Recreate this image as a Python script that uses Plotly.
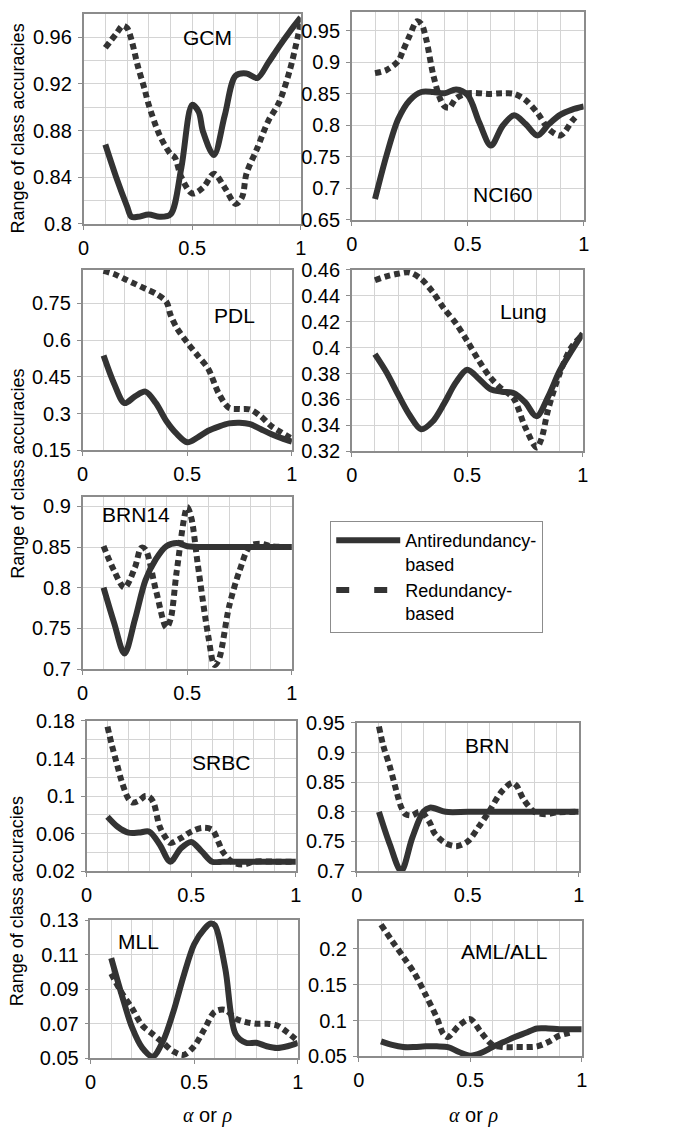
import plotly.graph_objects as go

W, H = 685, 1137

# ---------------- data ----------------
gcm_x_anti = [0.1, 0.15, 0.2, 0.22, 0.25, 0.3, 0.35, 0.4, 0.45, 0.5, 0.53, 0.55, 0.6, 0.65, 0.7, 0.75, 0.8, 0.85, 0.9, 0.95, 1.0]
gcm_y_anti = [0.868, 0.84, 0.815, 0.806, 0.806, 0.808, 0.806, 0.808, 0.848, 0.902, 0.896, 0.879, 0.859, 0.893, 0.927, 0.929, 0.925, 0.938, 0.952, 0.965, 0.977]
gcm_x_red = [0.1, 0.15, 0.18, 0.2, 0.22, 0.25, 0.28, 0.3, 0.35, 0.4, 0.42, 0.45, 0.5, 0.55, 0.6, 0.65, 0.7, 0.73, 0.75, 0.8, 0.85, 0.9, 0.95, 1.0]
gcm_y_red = [0.951, 0.963, 0.970, 0.968, 0.958, 0.935, 0.916, 0.902, 0.876, 0.86, 0.857, 0.84, 0.826, 0.831, 0.843, 0.831, 0.817, 0.823, 0.843, 0.865, 0.888, 0.904, 0.932, 0.972]

nci_x_anti = [0.1, 0.15, 0.2, 0.25, 0.3, 0.35, 0.4, 0.45, 0.5, 0.55, 0.6, 0.65, 0.7, 0.75, 0.8, 0.85, 0.9, 0.95, 1.0]
nci_y_anti = [0.683, 0.753, 0.81, 0.84, 0.853, 0.853, 0.851, 0.857, 0.848, 0.804, 0.768, 0.799, 0.816, 0.802, 0.784, 0.802, 0.817, 0.825, 0.83]
nci_x_red = [0.1, 0.15, 0.2, 0.22, 0.25, 0.28, 0.3, 0.32, 0.35, 0.38, 0.4, 0.42, 0.45, 0.5, 0.6, 0.65, 0.7, 0.75, 0.8, 0.85, 0.9, 0.95, 0.97]
nci_y_red = [0.883, 0.888, 0.902, 0.918, 0.943, 0.965, 0.961, 0.938, 0.882, 0.843, 0.83, 0.828, 0.843, 0.851, 0.85, 0.851, 0.85, 0.84, 0.82, 0.794, 0.784, 0.807, 0.815]

pdl_x_anti = [0.1, 0.15, 0.2, 0.25, 0.3, 0.35, 0.4, 0.45, 0.5, 0.55, 0.6, 0.65, 0.7, 0.75, 0.8, 0.85, 0.9, 0.95, 1.0]
pdl_y_anti = [0.537, 0.423, 0.343, 0.37, 0.39, 0.343, 0.27, 0.217, 0.183, 0.203, 0.23, 0.247, 0.26, 0.263, 0.257, 0.237, 0.217, 0.2, 0.186]
pdl_x_red = [0.1, 0.15, 0.2, 0.25, 0.3, 0.35, 0.4, 0.42, 0.45, 0.5, 0.55, 0.6, 0.65, 0.7, 0.75, 0.8, 0.85, 0.9, 0.95, 1.0]
pdl_y_red = [0.883, 0.87, 0.85, 0.83, 0.81, 0.79, 0.757, 0.703, 0.65, 0.59, 0.537, 0.483, 0.383, 0.323, 0.319, 0.317, 0.29, 0.25, 0.223, 0.197]

lung_x_anti = [0.1, 0.15, 0.2, 0.25, 0.3, 0.35, 0.4, 0.45, 0.5, 0.55, 0.6, 0.65, 0.7, 0.75, 0.8, 0.85, 0.9, 0.95, 1.0]
lung_y_anti = [0.395, 0.381, 0.364, 0.348, 0.337, 0.343, 0.357, 0.373, 0.383, 0.376, 0.368, 0.366, 0.365, 0.358, 0.347, 0.362, 0.382, 0.397, 0.411]
lung_x_red = [0.1, 0.15, 0.2, 0.25, 0.3, 0.35, 0.4, 0.45, 0.5, 0.55, 0.6, 0.65, 0.7, 0.75, 0.8, 0.82, 0.85, 0.9, 0.95, 1.0]
lung_y_red = [0.452, 0.455, 0.457, 0.458, 0.453, 0.443, 0.43, 0.419, 0.405, 0.39, 0.377, 0.368, 0.361, 0.339, 0.323, 0.329, 0.352, 0.38, 0.4, 0.41]

brn14_x_anti = [0.1, 0.15, 0.2, 0.25, 0.3, 0.35, 0.4, 0.45, 0.5, 0.6, 0.7, 0.8, 0.9, 1.0]
brn14_y_anti = [0.80, 0.757, 0.719, 0.761, 0.809, 0.835, 0.851, 0.855, 0.851, 0.85, 0.85, 0.85, 0.85, 0.85]
brn14_x_red = [0.1, 0.15, 0.2, 0.25, 0.28, 0.3, 0.35, 0.4, 0.42, 0.45, 0.5, 0.52, 0.55, 0.6, 0.63, 0.65, 0.7, 0.75, 0.8, 0.85, 0.9, 1.0]
brn14_y_red = [0.851, 0.821, 0.80, 0.825, 0.849, 0.847, 0.797, 0.751, 0.761, 0.821, 0.899, 0.885, 0.829, 0.741, 0.705, 0.711, 0.777, 0.821, 0.851, 0.854, 0.851, 0.85]

srbc_x_anti = [0.1, 0.15, 0.2, 0.25, 0.3, 0.35, 0.4, 0.45, 0.5, 0.55, 0.6, 0.65, 0.7, 0.8, 0.9, 1.0]
srbc_y_anti = [0.078, 0.067, 0.061, 0.061, 0.062, 0.048, 0.030, 0.044, 0.051, 0.041, 0.030, 0.030, 0.030, 0.030, 0.030, 0.030]
srbc_x_red = [0.1, 0.12, 0.15, 0.17, 0.2, 0.22, 0.25, 0.28, 0.3, 0.32, 0.35, 0.38, 0.4, 0.45, 0.5, 0.55, 0.6, 0.63, 0.65, 0.7, 0.75, 0.8, 0.9, 1.0]
srbc_y_red = [0.174, 0.155, 0.13, 0.114, 0.097, 0.093, 0.095, 0.10, 0.099, 0.093, 0.067, 0.055, 0.05, 0.055, 0.062, 0.066, 0.064, 0.051, 0.041, 0.029, 0.027, 0.03, 0.03, 0.03]

brn_x_anti = [0.1, 0.15, 0.2, 0.25, 0.3, 0.33, 0.35, 0.4, 0.5, 0.6, 0.7, 0.8, 0.9, 1.0]
brn_y_anti = [0.80, 0.744, 0.70, 0.756, 0.80, 0.807, 0.806, 0.80, 0.80, 0.80, 0.80, 0.80, 0.80, 0.80]
brn_x_red = [0.1, 0.12, 0.15, 0.18, 0.2, 0.22, 0.25, 0.28, 0.3, 0.33, 0.35, 0.4, 0.45, 0.5, 0.55, 0.6, 0.65, 0.7, 0.72, 0.75, 0.8, 0.85, 0.9, 1.0]
brn_y_red = [0.944, 0.911, 0.875, 0.833, 0.808, 0.796, 0.794, 0.80, 0.797, 0.781, 0.764, 0.747, 0.742, 0.75, 0.775, 0.803, 0.833, 0.849, 0.844, 0.822, 0.80, 0.796, 0.799, 0.80]

mll_x_anti = [0.1, 0.15, 0.2, 0.25, 0.3, 0.35, 0.4, 0.45, 0.5, 0.55, 0.58, 0.6, 0.65, 0.7, 0.75, 0.8, 0.85, 0.9, 0.95, 1.0]
mll_y_anti = [0.108, 0.087, 0.068, 0.056, 0.051, 0.060, 0.077, 0.098, 0.116, 0.125, 0.128, 0.127, 0.102, 0.064, 0.059, 0.059, 0.057, 0.056, 0.057, 0.059]
mll_x_red = [0.1, 0.15, 0.2, 0.25, 0.3, 0.35, 0.4, 0.45, 0.5, 0.55, 0.6, 0.65, 0.7, 0.75, 0.8, 0.85, 0.9, 0.95, 1.0]
mll_y_red = [0.099, 0.088, 0.079, 0.069, 0.064, 0.059, 0.054, 0.052, 0.057, 0.067, 0.077, 0.078, 0.073, 0.071, 0.07, 0.07, 0.069, 0.065, 0.06]

aml_x_anti = [0.1, 0.15, 0.2, 0.25, 0.3, 0.35, 0.4, 0.45, 0.5, 0.55, 0.6, 0.65, 0.7, 0.75, 0.8, 0.85, 0.9, 1.0]
aml_y_anti = [0.071, 0.066, 0.063, 0.063, 0.064, 0.064, 0.063, 0.056, 0.051, 0.055, 0.063, 0.07, 0.077, 0.083, 0.089, 0.089, 0.088, 0.088]
aml_x_red = [0.1, 0.15, 0.2, 0.25, 0.3, 0.35, 0.38, 0.4, 0.45, 0.5, 0.55, 0.6, 0.65, 0.7, 0.75, 0.8, 0.85, 0.9, 0.95]
aml_y_red = [0.234, 0.211, 0.189, 0.166, 0.136, 0.104, 0.081, 0.077, 0.093, 0.102, 0.083, 0.066, 0.063, 0.063, 0.063, 0.064, 0.07, 0.079, 0.083]

panel_names = ["GCM", "NCI60", "PDL", "Lung", "BRN14", "SRBC", "BRN", "MLL", "AML/ALL"]
series_names = ["Antiredundancy-<br>based", "Redundancy-<br>based"]
y_title = "Range of class accuracies"
x_title = ("<span style=\"font-family:'Liberation Serif'\"><i>α</i></span> or "
           "<span style=\"font-family:'Liberation Serif'\"><i>ρ</i></span>")

series = [
    (gcm_x_anti, gcm_y_anti, gcm_x_red, gcm_y_red),
    (nci_x_anti, nci_y_anti, nci_x_red, nci_y_red),
    (pdl_x_anti, pdl_y_anti, pdl_x_red, pdl_y_red),
    (lung_x_anti, lung_y_anti, lung_x_red, lung_y_red),
    (brn14_x_anti, brn14_y_anti, brn14_x_red, brn14_y_red),
    (srbc_x_anti, srbc_y_anti, srbc_x_red, srbc_y_red),
    (brn_x_anti, brn_y_anti, brn_x_red, brn_y_red),
    (mll_x_anti, mll_y_anti, mll_x_red, mll_y_red),
    (aml_x_anti, aml_y_anti, aml_x_red, aml_y_red),
]

# ---------------- layout (pixels) ----------------
boxes = [
    (79, 300, 3, 217), (352, 588, 1, 213),
    (78, 291, 264, 448), (352, 587, 264, 449),
    (78, 291, 496, 671),
    (82, 295, 724, 877), (357, 583, 726, 877),
    (86, 297, 927, 1068), (359, 586, 928, 1066),
]
yranges = [(0.8, 0.98), (0.65, 0.98), (0.15, 0.887), (0.32, 0.46), (0.7, 0.911),
           (0.02, 0.18), (0.7, 0.95), (0.05, 0.13), (0.05, 0.239)]
ysteps = [0.04, 0.05, 0.15, 0.02, 0.05, 0.04, 0.05, 0.02, 0.05]
yminor = [0.02, None, None, None, None, 0.02, None, None, None]
title_pos = [(205, 27), (506, 187), (233, 311), (527, 306), (132, 513),
             (219, 766), (490, 749), (135, 949), (507, 959)]

LINE = "#333333"
GRID = "#d4d4d4"
FRAME = "#8c8c8c"
FONT = "Liberation Sans, Arial, sans-serif"
TICK = 20

fig = go.Figure()
layout = {}
annotations = []

# legend-only entries (no data points)
fig.add_trace(go.Scatter(x=[None], y=[None], mode="lines", name=series_names[0],
                         line=dict(color=LINE, width=6), hoverinfo="skip"))
fig.add_trace(go.Scatter(x=[None], y=[None], mode="lines", name=series_names[1],
                         line=dict(color=LINE, width=6, dash="13px,25px"), hoverinfo="skip"))

for i, (name, box, yr, ys, ym, tp, s) in enumerate(
        zip(panel_names, boxes, yranges, ysteps, yminor, title_pos, series)):
    k = "" if i == 0 else str(i + 1)
    x0, x1, y0, y1 = box
    fig.add_trace(go.Scatter(
        x=s[0], y=s[1], xaxis="x" + k, yaxis="y" + k, mode="lines",
        line=dict(color=LINE, width=6, shape="spline", smoothing=0.9),
        name=series_names[0], showlegend=False, hoverinfo="skip"))
    fig.add_trace(go.Scatter(
        x=s[2], y=s[3], xaxis="x" + k, yaxis="y" + k, mode="lines",
        line=dict(color=LINE, width=6, shape="spline", smoothing=0.9, dash="6px,4px"),
        name=series_names[1], showlegend=False, hoverinfo="skip"))

    layout["xaxis" + k] = dict(
        domain=[x0 / W, x1 / W], range=[0, 1], tick0=0, dtick=0.5,
        anchor="y" + k, showgrid=True, gridcolor=GRID, gridwidth=1,
        minor=dict(dtick=0.1, showgrid=True, gridcolor=GRID, ticks=""),
        showline=True, linecolor=FRAME, linewidth=1.5, mirror=True,
        ticks="outside", ticklen=4, tickcolor=FRAME, ticklabelstandoff=1,
        tickfont=dict(family=FONT, size=TICK, color="black"),
        zeroline=False, fixedrange=True)
    ydict = dict(
        domain=[1 - y1 / H, 1 - y0 / H], range=list(yr), tick0=yr[0], dtick=ys,
        anchor="x" + k, showgrid=True, gridcolor=GRID, gridwidth=1,
        showline=True, linecolor=FRAME, linewidth=1.5, mirror=True,
        ticks="outside", ticklen=4, tickcolor=FRAME, ticklabelstandoff=2,
        tickfont=dict(family=FONT, size=TICK, color="black"),
        zeroline=False, fixedrange=True)
    if ym:
        ydict["minor"] = dict(dtick=ym, tick0=yr[0], showgrid=True, gridcolor=GRID, ticks="")
    layout["yaxis" + k] = ydict

    annotations.append(dict(
        text=name, x=tp[0] / W, y=1 - tp[1] / H, xref="paper", yref="paper",
        xanchor="center", yanchor="middle", showarrow=False,
        font=dict(family=FONT, size=21, color="black")))

# shared y-axis titles
for cy in (120, 472, 908):
    annotations.append(dict(
        text=y_title, x=12 / W, y=1 - cy / H, xref="paper", yref="paper",
        xanchor="center", yanchor="middle", textangle=-90, showarrow=False,
        font=dict(family=FONT, size=18, color="black")))

# x-axis titles
for cx in (205, 476):
    annotations.append(dict(
        text=x_title, x=cx / W, y=1 - 1126 / H, xref="paper", yref="paper",
        xanchor="center", yanchor="middle", showarrow=False,
        font=dict(family=FONT, size=20, color="black")))

fig.update_layout(
    width=W, height=H, margin=dict(l=0, r=0, t=0, b=0, pad=0),
    paper_bgcolor="white", plot_bgcolor="white",
    showlegend=True,
    legend=dict(x=330 / W, y=1 - 520 / H, xanchor="left", yanchor="top",
                bordercolor=FRAME, borderwidth=1, bgcolor="white",
                font=dict(family=FONT, size=18, color="black"),
                valign="top", tracegroupgap=0, itemwidth=64),
    annotations=annotations,
    **layout)

fig.write_html("out.html", config={"displayModeBar": False},
               post_script="document.body.style.margin='0px';document.body.style.overflow='hidden';")
